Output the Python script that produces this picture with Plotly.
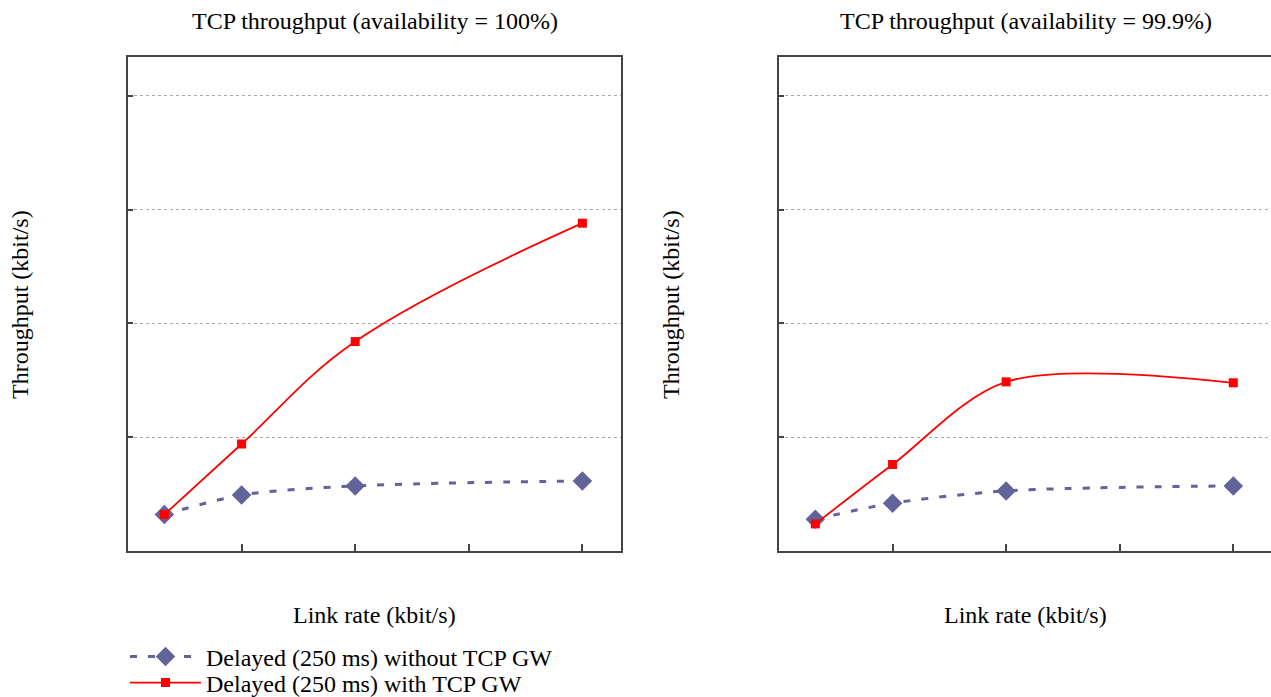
import plotly.graph_objects as go

link_rate = [16, 50, 100, 200]
without_gw_100 = [16, 24.6, 28.6, 30.8]
with_gw_100 = [16, 47, 92, 144]
without_gw_999 = [14, 21, 26.4, 28.6]
with_gw_999 = [11.9, 38, 74.3, 73.9]

titles = ["TCP throughput (availability = 100%)", "TCP throughput (availability = 99.9%)"]
series_names = ["Delayed (250 ms) without TCP GW", "Delayed (250 ms) with TCP GW"]
tick_vals = [50, 100, 150, 200]

W, H = 1271, 697
FONT = "Times New Roman, Liberation Serif, Tinos, serif"
FS = 24
BLUE = "#63639b"
RED = "#ff0000"

fig = go.Figure()

panels = [
    ("x", "y", without_gw_100, with_gw_100, True, 1.1),
    ("x2", "y2", without_gw_999, with_gw_999, False, 0.9),
]
for xa, ya, blue_vals, red_vals, show, sm in panels:
    fig.add_trace(go.Scatter(
        x=link_rate, y=blue_vals, xaxis=xa, yaxis=ya, mode="lines+markers",
        name=series_names[0], showlegend=show, legend="legend",
        line=dict(color=BLUE, width=3, dash="7px,11px", shape="spline", smoothing=0.8),
        marker=dict(symbol="diamond", size=15, color=BLUE),
    ))
    fig.add_trace(go.Scatter(
        x=link_rate, y=red_vals, xaxis=xa, yaxis=ya, mode="lines+markers",
        name=series_names[1], showlegend=show, legend="legend2",
        line=dict(color=RED, width=1.8, shape="spline", smoothing=sm),
        marker=dict(symbol="square", size=9, color=RED),
    ))

y_dom = [1 - 551 / H, 1 - 57 / H]
xdoms = [[128 / W, 621 / W], [779 / W, 1.0]]

common_x = dict(tickvals=tick_vals, ticks="inside", ticklen=7, tickwidth=1.5,
                tickcolor="#444", showticklabels=False, showgrid=False, zeroline=False,
                showline=True, linecolor="#444", linewidth=1.5, mirror=True)
common_y = dict(range=[0, 217], tickvals=tick_vals, ticks="inside", ticklen=5, tickwidth=1.5,
                tickcolor="#444", showticklabels=False, showgrid=True, gridcolor="#a8a8a8",
                gridwidth=1, griddash="3px,3px", zeroline=False,
                showline=True, linecolor="#444", linewidth=1.5)

leg_common = dict(xanchor="left", yanchor="middle", font=dict(family=FONT, size=FS),
                  itemwidth=71, bgcolor="rgba(0,0,0,0)", borderwidth=0)

fig.update_layout(
    width=W, height=H,
    margin=dict(l=0, r=0, t=0, b=0, autoexpand=False),
    paper_bgcolor="white", plot_bgcolor="white",
    font=dict(family=FONT, size=FS, color="black"),
    xaxis=dict(domain=xdoms[0], anchor="y", range=[0, 217], **common_x),
    yaxis=dict(domain=y_dom, anchor="x", mirror=True, **common_y),
    xaxis2=dict(domain=xdoms[1], anchor="y2", range=[0, 216.6], **common_x),
    yaxis2=dict(domain=y_dom, anchor="x2", mirror=False, **common_y),
    legend=dict(x=125 / W, y=1 - 657 / H, **leg_common),
    legend2=dict(x=125 / W, y=1 - 683 / H, **leg_common),
    showlegend=True,
)

annots = []
for i, (x0, x1) in enumerate(xdoms):
    cx = (128 + 621) / 2 / W if i == 0 else (779 + 1272) / 2 / W
    annots.append(dict(text=titles[i], x=cx, y=1 - 21 / H, xref="paper", yref="paper",
                       showarrow=False, xanchor="center", yanchor="middle",
                       font=dict(family=FONT, size=FS)))
    annots.append(dict(text="Link rate (kbit/s)", x=cx, y=1 - 615 / H, xref="paper", yref="paper",
                       showarrow=False, xanchor="center", yanchor="middle",
                       font=dict(family=FONT, size=FS)))
    yx = 20 / W if i == 0 else 671 / W
    annots.append(dict(text="Throughput (kbit/s)", x=yx, y=1 - 305 / H, xref="paper", yref="paper",
                       showarrow=False, xanchor="center", yanchor="middle", textangle=-90,
                       font=dict(family=FONT, size=FS)))
fig.update_layout(annotations=annots)

fig.write_html("out.html")
